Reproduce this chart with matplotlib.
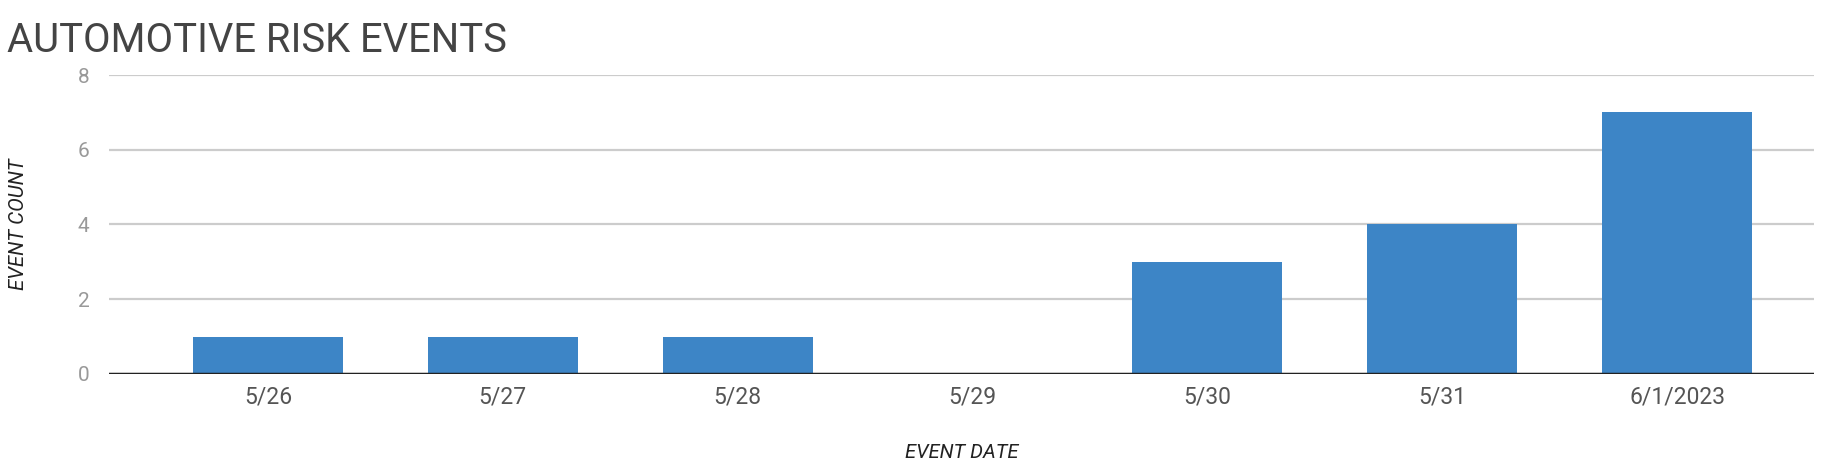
import matplotlib.pyplot as plt

plt.rcParams['font.family'] = ['Roboto', 'DejaVu Sans']

dates = ['5/26', '5/27', '5/28', '5/29', '5/30', '5/31', '6/1/2023']
counts = [1, 1, 1, 0, 3, 4, 7]
y_ticks = [0, 2, 4, 6, 8]

fig = plt.figure(figsize=(18.44, 4.68), dpi=100)
ax = fig.add_axes([0.0591, 0.2009, 0.9246, 0.6388])

x = list(range(len(dates)))
ax.bar(x, counts, width=0.64, color='#3d85c6', zorder=3)

ax.set_xlim(-0.677, 6.583)
ax.set_ylim(0, 8)
ax.set_yticks(y_ticks)
ax.set_xticks(x)
ax.set_xticklabels(dates)
ax.grid(axis='y', color='#cccccc', linewidth=1.6, zorder=0)
ax.axhline(0, color='#222222', linewidth=2.5, zorder=4)

for s in ax.spines.values():
    s.set_visible(False)
ax.tick_params(axis='both', length=0)
ax.tick_params(axis='y', labelsize=15, labelcolor='#999999', pad=14)
ax.tick_params(axis='x', labelsize=16.5, labelcolor='#555555', pad=8)

ax.set_xlabel('EVENT DATE', fontsize=14.5, style='italic', color='#222222', labelpad=25)
ax.set_ylabel('EVENT COUNT', fontsize=14.8, style='italic', color='#222222', labelpad=36)

fig.text(0.004, 0.955, 'AUTOMOTIVE RISK EVENTS', fontsize=28.8, color='#444444', va='top', ha='left')

fig.savefig('out.png', dpi=100)
